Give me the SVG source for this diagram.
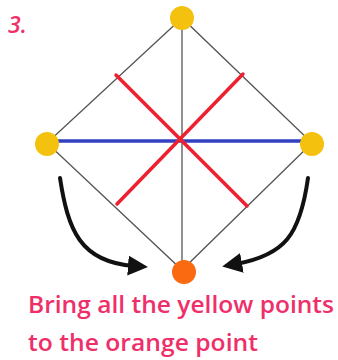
<svg xmlns="http://www.w3.org/2000/svg" width="338" height="360" viewBox="0 0 338 360">
<style>
.edge{stroke:#555;stroke-width:1.3;fill:none}
.red{stroke:#ee2030;stroke-width:3.5;stroke-linecap:round}
.blue{stroke:#3040c0;stroke-width:3.5}
.arrow{stroke:#111;stroke-width:4;fill:none;stroke-linecap:round}
.yel{fill:#f3c10e}
.org{fill:#fa6a10}
.lbl{font-family:"Open Sans","DejaVu Sans",sans-serif;fill:#ee2f6a;font-size:23px;font-weight:600}
</style>
<defs>
<marker id="ah" viewBox="0 0 10 10" refX="3" refY="5" markerWidth="5" markerHeight="5" orient="auto" markerUnits="strokeWidth">
<path d="M0,0 L10,5 L0,10 z" fill="#111"/>
</marker>
</defs>
<rect width="338" height="360" fill="#fff"/>
<text class="lbl" x="8" y="33" font-weight="bold" font-style="italic" font-size="26">3.</text>
<g id="connectors">
<path class="edge" d="M182,18 L47,143 L182,270 L312,143 Z"/>
<line class="edge" x1="182" y1="18" x2="182" y2="270"/>
<line class="blue" x1="47" y1="141" x2="312" y2="141"/>
<line class="red" x1="116" y1="75" x2="247" y2="206"/>
<line class="red" x1="243" y1="74" x2="117" y2="204"/>
<path class="arrow" d="M60,178 C68,230 80,262 134,266" marker-end="url(#ah)"/>
<path class="arrow" d="M308,178 C300,235 285,255 236,264" marker-end="url(#ah)"/>
</g>
<g id="top"><circle class="yel" cx="182" cy="18" r="12"/></g>
<g id="left"><circle class="yel" cx="47" cy="144" r="12"/></g>
<g id="right"><circle class="yel" cx="312" cy="144" r="12"/></g>
<g id="bottom"><circle class="org" cx="184" cy="272" r="12"/></g>
<text class="lbl" x="28" y="313" textLength="306" lengthAdjust="spacingAndGlyphs">Bring all the yellow points</text>
<text class="lbl" x="28" y="351" textLength="230" lengthAdjust="spacingAndGlyphs">to the orange point</text>
</svg>
